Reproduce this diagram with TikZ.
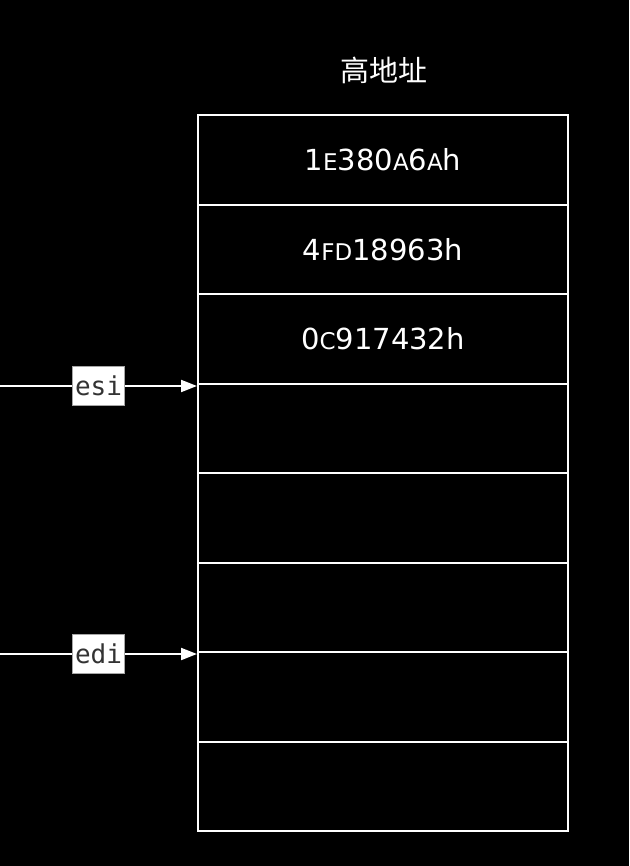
\documentclass[tikz,border=0pt]{standalone}
\usepackage{fontspec}
\setmainfont{DejaVu Sans}
\newfontfamily\cjk{Noto Sans CJK SC}
\newfontfamily\monof{DejaVu Sans Mono}
\usetikzlibrary{arrows.meta}
\newcommand\sml[1]{{\fontsize{23}{23}\selectfont #1}}
\tikzset{
  cell/.style={draw=white, line width=2pt, minimum width=370pt, minimum height=89.5pt, inner sep=0pt, text=white, font=\fontsize{29}{29}\selectfont},
  reglabel/.style={fill=white, draw=gray!70, line width=1pt, text=black!80, font=\monof\fontsize{26}{26}\selectfont, inner sep=3pt, minimum height=39pt},
  ptr/.style={draw=white, line width=2pt, -{Triangle[length=16pt,width=12pt]}},
}
\begin{document}
\begin{tikzpicture}[x=1pt,y=-1pt]
\fill[black] (0,0) rectangle (629,866);
\useasboundingbox (0,0) rectangle (629,866);
\node[text=white, font=\cjk\fontsize{29}{29}\selectfont] (title) at (384,70) {高地址};
\node[cell] (r1) at (383,160) {1\sml{E}380\sml{A}6\sml{A}h};
\node[cell] (r2) at (383,249.5) {4\sml{FD}18963h};
\node[cell] (r3) at (383,339) {0\sml{C}917432h};
\node[cell] (r4) at (383,428.5) {};
\node[cell] (r5) at (383,518) {};
\node[cell] (r6) at (383,607.5) {};
\node[cell] (r7) at (383,697) {};
\node[cell] (r8) at (383,786.5) {};
\coordinate (s1) at (0,386);
\coordinate (s2) at (0,654);
\draw[ptr] (s1) -- node[reglabel] (esi) {esi} (s1 -| r4.west);
\draw[ptr] (s2) -- node[reglabel] (edi) {edi} (s2 -| r7.west);
\end{tikzpicture}
\end{document}
